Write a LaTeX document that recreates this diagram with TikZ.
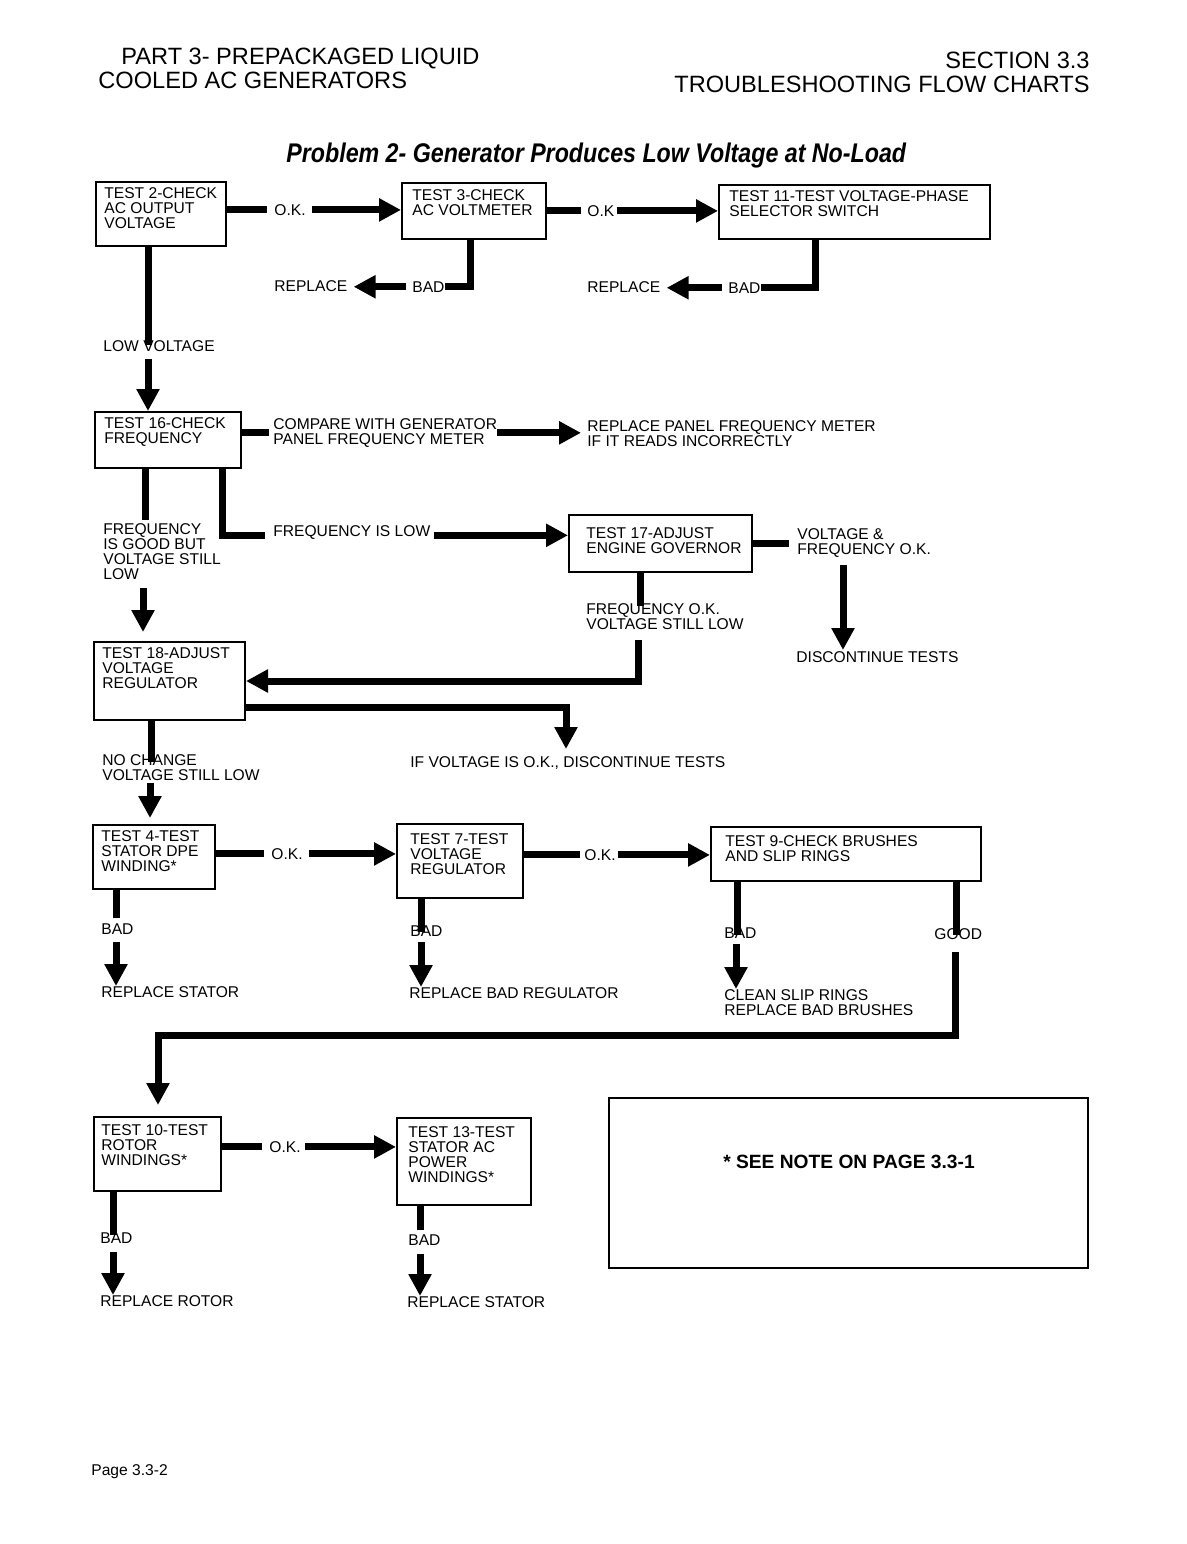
\documentclass[tikz,border=0pt]{standalone}
\usepackage{fontspec}
\setmainfont{Liberation Sans}
\usetikzlibrary{arrows.meta,calc}
\newcommand\smallfnt{\fontsize{7.8}{7.5}\selectfont}
\newcommand\hdrfnt{\fontsize{11.8}{12}\selectfont}
\begin{document}
\begin{tikzpicture}[x=0.5pt,y=-0.5pt,
  box/.style={draw,line width=1pt,inner sep=0pt,anchor=north west},
  bx/.style 2 args={box,minimum width=#1*0.5pt,minimum height=#2*0.5pt},
  txt/.style={inner sep=0pt,anchor=north west,align=left,font=\smallfnt},
  thk/.style={line width=3.5pt,line join=miter},
  arr/.style={line width=3.5pt,line join=miter,-{Triangle[length=11pt,width=11pt]}},
]
\useasboundingbox[fill=white] (0,0) rectangle (1187,1544);

% headers
\node[txt,font=\hdrfnt] (h1) at (121,48) {PART 3- PREPACKAGED LIQUID};
\node[txt,font=\hdrfnt] (h2) at (98,72) {COOLED AC GENERATORS};
\node[inner sep=0pt,anchor=north east,font=\hdrfnt] (h3) at (1090,52) {SECTION 3.3};
\node[inner sep=0pt,anchor=north east,font=\hdrfnt] (h4) at (1090,76) {TROUBLESHOOTING FLOW CHARTS};
\node[inner sep=0pt,anchor=north west] (title) at (286,143)
  {\scalebox{0.86}[1]{\fontsize{13.5}{14}\selectfont\bfseries\itshape Problem 2- Generator Produces Low Voltage at No-Load}};

% boxes
\node[bx={130}{64}] (b2) at (95,181) {};
\node[bx={144}{56}] (b3) at (401,182) {};
\node[bx={271}{54}] (b11) at (718,184) {};
\node[bx={146}{56}] (b16) at (94,411) {};
\node[bx={183}{57}] (b17) at (568,514) {};
\node[bx={151}{78}] (b18) at (93,641) {};
\node[bx={122}{64}] (b4) at (92,824) {};
\node[bx={126}{74}] (b7) at (396,823) {};
\node[bx={270}{54}] (b9) at (710,826) {};
\node[bx={127}{74}] (b10) at (93,1116) {};
\node[bx={134}{87}] (b13) at (396,1117) {};
\node[bx={479}{170}] (note) at (608,1097) {};

% box texts
\node[txt] (b2t) at (104,187) {TEST 2-CHECK\\AC OUTPUT\\VOLTAGE};
\node[txt] (b3t) at (412,189) {TEST 3-CHECK\\AC VOLTMETER};
\node[txt] (b11t) at (729,190) {TEST 11-TEST VOLTAGE-PHASE\\SELECTOR SWITCH};
\node[txt] (b16t) at (104,417) {TEST 16-CHECK\\FREQUENCY};
\node[txt] (b17t) at (586,527) {TEST 17-ADJUST\\ENGINE GOVERNOR};
\node[txt] (b18t) at (102,647) {TEST 18-ADJUST\\VOLTAGE\\REGULATOR};
\node[txt] (b4t) at (101,830) {TEST 4-TEST\\STATOR DPE\\WINDING*};
\node[txt] (b7t) at (410,833) {TEST 7-TEST\\VOLTAGE\\REGULATOR};
\node[txt] (b9t) at (725,835) {TEST 9-CHECK BRUSHES\\AND SLIP RINGS};
\node[txt] (b10t) at (101,1124) {TEST 10-TEST\\ROTOR\\WINDINGS*};
\node[txt] (b13t) at (408,1126) {TEST 13-TEST\\STATOR AC\\POWER\\WINDINGS*};
\node[inner sep=0pt,font=\bfseries\fontsize{9.6}{10}\selectfont] (notet) at (849,1162) {* SEE NOTE ON PAGE 3.3-1};

% labels
\node[txt] (ok1) at (274,204) {O.K.};
\node[txt] (bad3) at (412,281) {BAD};
\node[txt] (rep3) at (274,280) {REPLACE};
\node[txt] (ok2) at (587,205) {O.K};
\node[txt] (bad11) at (728,282) {BAD};
\node[txt] (rep11) at (587,281) {REPLACE};
\node[txt] (low) at (103,340) {LOW VOLTAGE};
\node[txt] (cmp) at (273,418) {COMPARE WITH GENERATOR\\PANEL FREQUENCY METER};
\node[txt] (rpm) at (587,420) {REPLACE PANEL FREQUENCY METER\\IF IT READS INCORRECTLY};
\node[txt] (fg) at (103,523) {FREQUENCY\\IS GOOD BUT\\VOLTAGE STILL\\LOW};
\node[txt] (fl) at (273,525) {FREQUENCY IS LOW};
\node[txt] (vf) at (797,528) {VOLTAGE \&\\FREQUENCY O.K.};
\node[txt] (disc) at (796,651) {DISCONTINUE TESTS};
\node[txt] (fok) at (586,603) {FREQUENCY O.K.\\VOLTAGE STILL LOW};
\node[txt] (ifv) at (410,756) {IF VOLTAGE IS O.K., DISCONTINUE TESTS};
\node[txt] (nc) at (102,754) {NO CHANGE\\VOLTAGE STILL LOW};
\node[txt] (ok3) at (271,848) {O.K.};
\node[txt] (ok4) at (584,849) {O.K.};
\node[txt] (bad4) at (101,923) {BAD};
\node[txt] (rs4) at (101,986) {REPLACE STATOR};
\node[txt] (bad7) at (410,925) {BAD};
\node[txt] (rbr) at (409,987) {REPLACE BAD REGULATOR};
\node[txt] (bad9) at (724,927) {BAD};
\node[txt] (csr) at (724,989) {CLEAN SLIP RINGS\\REPLACE BAD BRUSHES};
\node[txt] (good) at (934,928) {GOOD};
\node[txt] (ok5) at (269,1141) {O.K.};
\node[txt] (bad10) at (100,1232) {BAD};
\node[txt] (rr) at (100,1295) {REPLACE ROTOR};
\node[txt] (bad13) at (408,1234) {BAD};
\node[txt] (rs13) at (407,1296) {REPLACE STATOR};
\node[txt] (pg) at (91,1464) {Page 3.3-2};

% connectors: row 1
\draw[thk,shorten >=3.5pt] (b2.east |- ok1.west) -- (ok1.west);
\draw[arr,shorten <=3pt] (ok1.east) -- (b3.west |- ok1.east);
\draw[thk] (b3.south -| 470,0) |- (bad3.east);
\draw[arr,shorten <=3pt,shorten >=3pt] (bad3.west) -- (rep3.east |- bad3.west);
\draw[thk,shorten >=3pt] (b3.east |- ok2.west) -- (ok2.west);
\draw[arr,shorten <=1pt] (ok2.east) -- (b11.west |- ok2.east);
\draw[thk] (b11.south -| 815,0) |- (bad11.east);
\draw[arr,shorten <=3pt,shorten >=3pt] (bad11.west) -- (rep11.east |- bad11.west);

% low voltage
\draw[thk] (b2.south -| 148,0) -- ($(low.north -| 148,0)+(0,5)$);
\draw[arr,shorten <=3.5pt] (low.south -| 148,0) -- (b16.north -| 148,0);

% test 16
\draw[thk,shorten >=2pt] (b16.east |- cmp.west) -- (cmp.west);
\draw[arr,shorten >=3pt] (cmp.east) -- (rpm.west |- cmp.east);
\draw[thk] (b16.south -| 145,0) -- ($(fg.north -| 145,0)+(0,-3)$);
\draw[arr,shorten <=4pt,shorten >=4.5pt] (fg.south -| 143,0) -- (b18.north -| 143,0);
\draw[thk,shorten >=4pt] (b16.south -| 222,0) |- ($(fl.west)+(0,3)$);
\draw[arr,shorten <=1.5pt] ($(fl.east)+(0,3)$) -- (b17.west |- {$(fl.east)+(0,3)$});

% test 17
\draw[thk,shorten >=4pt] (b17.east) -- (b17.east -| vf.west);
\draw[arr,shorten <=3.5pt] (vf.south -| 843,0) -- ($(disc.north -| 843,0)+(0,-1)$);
\draw[thk] (b17.south -| 640,0) -- ($(fok.north -| 640,0)+(0,3)$);
\draw[arr,shorten <=5pt] (fok.south -| 638,0) |- (b18.east);

% test 18
\draw[arr] (b18.east |- 0,707) -| ($(ifv.north -| 566,0)+(0,-7)$);
\draw[thk] (b18.south -| 151,0) -- ($(nc.north -| 151,0)+(0,8)$);
\draw[arr,shorten <=1pt,shorten >=3pt] (nc.south -| 150,0) -- (b4.north -| 150,0);

% row test 4 / 7 / 9
\draw[thk,shorten >=3.5pt] (b4.east |- ok3.west) -- (ok3.west);
\draw[arr,shorten <=3pt] (ok3.east) -- (b7.west |- ok3.east);
\draw[thk,shorten >=2pt] (b7.east |- ok4.west) -- (ok4.west);
\draw[arr,shorten <=1pt] (ok4.east) -- (b9.west |- ok4.east);
\draw[thk,shorten >=2.5pt] (b4.south -| 116,0) -- (bad4.north -| 116,0);
\draw[arr,shorten <=3.5pt] (bad4.south -| 116,0) -- (rs4.north -| 116,0);
\draw[thk] (b7.south -| 421,0) -- ($(bad7.north -| 421,0)+(0,7)$);
\draw[arr,shorten <=2.5pt] (bad7.south -| 421,0) -- (rbr.north -| 421,0);
\draw[thk] (b9.south -| 737,0) -- ($(bad9.north -| 737,0)+(0,8)$);
\draw[arr,shorten <=2.5pt] (bad9.south -| 736,0) -- (csr.north -| 736,0);
\draw[thk] (b9.south -| 956,0) -- ($(good.north -| 956,0)+(0,7)$);
\draw[arr,shorten <=6pt,shorten >=5.5pt] (good.south -| 955,0) |- (158,1035) -- (b10.north -| 158,0);

% row test 10 / 13
\draw[thk,shorten >=3.5pt] (b10.east |- ok5.west) -- (ok5.west);
\draw[arr,shorten <=2pt] (ok5.east) -- (b13.west |- ok5.east);
\draw[thk] (b10.south -| 113,0) -- ($(bad10.north -| 113,0)+(0,3)$);
\draw[arr,shorten <=4pt] (bad10.south -| 113,0) -- (rr.north -| 113,0);
\draw[thk,shorten >=2pt] (b13.south -| 420,0) -- (bad13.north -| 420,0);
\draw[arr,shorten <=4pt] (bad13.south -| 420,0) -- (rs13.north -| 420,0);
\end{tikzpicture}
\end{document}
